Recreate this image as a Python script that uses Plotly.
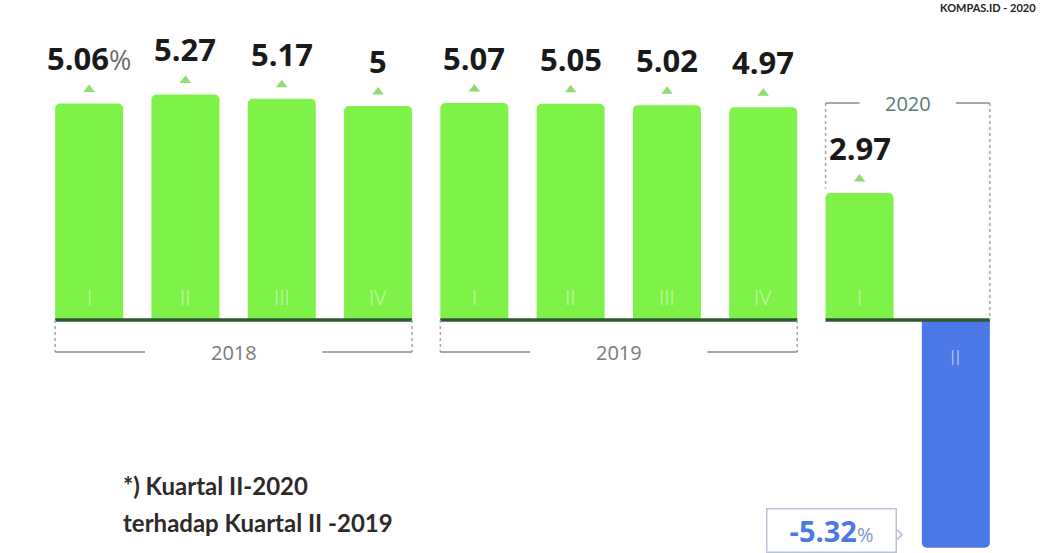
import plotly.graph_objects as go

# ---- data ----
quarters = ["I", "II", "III", "IV", "I", "II", "III", "IV", "I", "II"]
years = ["2018", "2018", "2018", "2018", "2019", "2019", "2019", "2019", "2020", "2020"]
growth = [5.06, 5.27, 5.17, 5.00, 5.07, 5.05, 5.02, 4.97, 2.97, -5.32]
value_labels = ["5.06", "5.27", "5.17", "5", "5.07", "5.05", "5.02", "4.97", "2.97", "-5.32"]
note_lines = ["*) Kuartal II-2020", "terhadap Kuartal II -2019"]
source_text = "KOMPAS.ID - 2020"

GREEN = "#7ff24a"
BLUE = "#4b78e6"
TRI = "#8fdc6f"
BASE = "#2d5a33"
BAR_W = 0.706
PX_PER_UNIT = 42.8

idx = list(range(len(growth)))
colors = [GREEN if v >= 0 else BLUE for v in growth]

fig = go.Figure()
fig.add_trace(go.Bar(x=idx, y=growth, width=BAR_W, marker=dict(color=colors, line=dict(width=0)),
                     hoverinfo="skip", showlegend=False))

# small triangles above positive bars
pos_idx = [i for i, v in zip(idx, growth) if v > 0]
fig.add_trace(go.Scatter(x=pos_idx, y=[growth[i] + 14 / PX_PER_UNIT for i in pos_idx], mode="markers",
                         marker=dict(symbol="triangle-up", size=10, color=TRI),
                         hoverinfo="skip", showlegend=False))

annotations = []
shapes = []

# value labels
for i, (v, lab) in enumerate(zip(growth, value_labels)):
    if v < 0:
        continue
    txt = lab
    if i == 0:
        txt = lab + "<span style='font-weight:normal;color:#6d6d6d;font-size:27px'>%</span>"
    annotations.append(dict(x=i, y=v, text=txt, showarrow=False, yshift=45, yanchor="middle",
                            font=dict(family="Open Sans", size=31, color="#1a1a1a", weight="bold")))

# quarter numerals inside bars
for i, (v, q) in enumerate(zip(growth, quarters)):
    if v >= 0:
        annotations.append(dict(x=i, y=0, text=q, showarrow=False, yshift=23, yanchor="middle",
                                font=dict(family="Open Sans", size=21, color="rgba(255,255,255,0.55)", weight=300)))
    else:
        annotations.append(dict(x=i, y=0, text=q, showarrow=False, yshift=-37, yanchor="middle",
                                font=dict(family="Open Sans", size=21, color="rgba(255,255,255,0.65)", weight=300)))

# year groups: baseline segments and brackets
groups = []
for i, y in enumerate(years):
    if not groups or groups[-1][0] != y:
        groups.append([y, i, i])
    else:
        groups[-1][2] = i

half = BAR_W / 2
dot = dict(color="#a8a8a8", width=1.5, dash="dot")
solid = dict(color="#8a8a8a", width=1.5)
for name, a, b in groups:
    x0, x1 = a - half, b + half
    shapes.append(dict(type="line", x0=x0, x1=x1, y0=0, y1=0, line=dict(color=BASE, width=3.5)))
    xc = (a + b) / 2
    if name != "2020":
        yb = -32 / PX_PER_UNIT
        gap = 0.92
        shapes.append(dict(type="line", x0=x0, x1=x0, y0=0, y1=yb, line=dot))
        shapes.append(dict(type="line", x0=x1, x1=x1, y0=0, y1=yb, line=dot))
        shapes.append(dict(type="line", x0=x0, x1=xc - gap, y0=yb, y1=yb, line=solid))
        shapes.append(dict(type="line", x0=xc + gap, x1=x1, y0=yb, y1=yb, line=solid))
        annotations.append(dict(x=xc, y=yb, text=name, showarrow=False, yanchor="middle",
                                font=dict(family="Open Sans", size=20, color="#7a7a7a")))
    else:
        yt = 217 / PX_PER_UNIT
        gap = 0.5
        shapes.append(dict(type="line", x0=x0, x1=x0, y0=yt, y1=growth[a] + 0.1, line=dot))
        shapes.append(dict(type="line", x0=x1, x1=x1, y0=yt, y1=0, line=dot))
        shapes.append(dict(type="line", x0=x0, x1=xc - gap, y0=yt, y1=yt, line=solid))
        shapes.append(dict(type="line", x0=xc + gap, x1=x1, y0=yt, y1=yt, line=solid))
        annotations.append(dict(x=xc, y=yt, text=name, showarrow=False, yanchor="middle",
                                font=dict(family="Open Sans", size=20, color="#5a7a76")))

# negative value box
neg_i = [i for i, v in enumerate(growth) if v < 0][0]
annotations.append(dict(x=neg_i, y=growth[neg_i], xshift=-124, yshift=17, showarrow=False,
                        text=value_labels[neg_i] + "<span style='font-weight:normal;color:#7f95c8;font-size:20px'>%</span>",
                        font=dict(family="Open Sans", size=29, color=BLUE, weight="bold"),
                        bordercolor="#b9c3d6", borderwidth=1.5, borderpad=2, bgcolor="white",
                        width=124, height=38, xanchor="center", yanchor="middle"))
annotations.append(dict(x=neg_i, y=growth[neg_i], xshift=-56, yshift=14, showarrow=False, text="›",
                        font=dict(family="DejaVu Sans", size=24, color="#b9c3d6"), xanchor="center"))

# note text
for k, line in enumerate(note_lines):
    annotations.append(dict(xref="paper", yref="paper", x=(121 - 41) / 963, y=(553 - 485 - 37 * k) / 553,
                            text=line, showarrow=False, xanchor="left", yanchor="middle",
                            font=dict(family="Lato", size=24, color="#2e2a2a", weight="bold")))

# source text at top right
annotations.append(dict(xref="paper", yref="paper", x=1.035, y=1, yanchor="top", yshift=1,
                        xanchor="right", text=source_text, showarrow=False,
                        font=dict(family="Lato", size=11, color="#222", weight="bold")))

fig.update_layout(
    width=1041, height=553,
    margin=dict(l=41, r=37, t=0, b=0),
    paper_bgcolor="white", plot_bgcolor="white",
    barcornerradius=5,
    xaxis=dict(range=[-0.5, 9.5], visible=False, showgrid=False, zeroline=False),
    yaxis=dict(range=[-233 / PX_PER_UNIT, 320 / PX_PER_UNIT], visible=False, showgrid=False, zeroline=False),
    annotations=annotations, shapes=shapes,
)

fig.write_html("out.html", config={"displayModeBar": False},
               post_script="document.body.style.margin='0px';document.body.style.overflow='hidden';")
